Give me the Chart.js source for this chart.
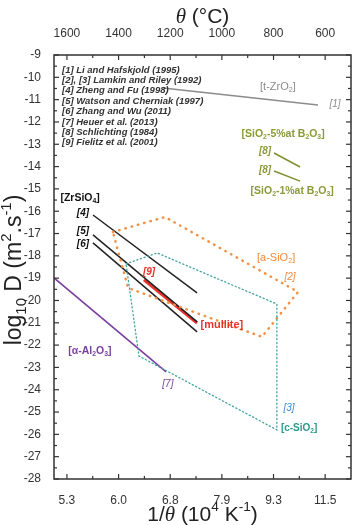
<!DOCTYPE html>
<html>
<head>
<meta charset="utf-8">
<script src="https://cdn.jsdelivr.net/npm/chart.js@4/dist/chart.umd.min.js"></script>
<style>
  body { margin: 0; background: #fff; }
  #wrap { width: 356px; height: 525px; position: relative; }
</style>
</head>
<body>
<div id="wrap"><canvas id="myChart"></canvas></div>
<script>
// temperature axis (deg C), drawn reversed; bottom axis shows 1/theta for the same ticks
const tempTicks = [1600, 1400, 1200, 1000, 800, 600];
const tempMinor = [1500, 1300, 1100, 900, 700];
const invTickLabels = ['5.3', '6.0', '6.8', '7.9', '9.3', '11.5'];
const logDTicks = [-9, -10, -11, -12, -13, -14, -15, -16, -17, -18, -19, -20, -21, -22, -23, -24, -25, -26, -27, -28];

// series: [theta (C), log10 D]
const liHafskjold = [[1228, -10.48], [628, -11.24]];          // [1] t-ZrO2
const schlichting5 = [[798, -13.39], [697, -14.02]];          // [8] SiO2-5%at B2O3
const schlichting1 = [[798, -14.20], [697, -14.65]];          // [8] SiO2-1%at B2O3
const zhengFu = [[1499, -16.17], [1096, -19.66]];             // [4]
const watsonCherniak = [[1499, -17.06], [1096, -20.96]];      // [5]
const zhangWu = [[1499, -17.42], [1096, -21.41]];             // [6]
const fielitz = [[1302, -19.08], [1096, -21.01]];             // [9] mullite
const heuer = [[1650, -18.99], [1216, -23.2]];                // [7] alpha-Al2O3
const lamkinAmorph = [[1422, -16.93], [1220, -16.26], [705, -19.62], [845, -21.63], [1363, -19.44], [1422, -16.93]]; // [2]
const lamkinCryst = [[1371, -18.36], [1251, -17.87], [787, -20.16], [787, -25.80], [1321, -22.49], [1371, -18.36]];  // [3]

const refs = [
  '[1] Li and Hafskjold (1995)',
  '[2], [3] Lamkin and Riley (1992)',
  '[4] Zheng and Fu (1998)',
  '[5] Watson and Cherniak (1997)',
  '[6] Zhang and Wu (2011)',
  '[7] Heuer et al. (2013)',
  '[8] Schlichting (1984)',
  '[9] Fielitz et al. (2001)'
];

// labels placed in data coords
const notes = [
  {t: '[t-ZrO_2]', x: 783, y: -10.43, c: '#8c8c8c', w: 'normal', s: 'normal', f: 11},
  {t: '[1]', x: 562, y: -11.2, c: '#8c8c8c', w: 'normal', s: 'italic', f: 10},
  {t: '[SiO_2-5%at B_2O_3]', x: 763, y: -12.54, c: '#8a9a3a', w: 'bold', s: 'normal', f: 10.5},
  {t: '[8]', x: 833, y: -13.30, c: '#8a9a3a', w: 'bold', s: 'italic', f: 10},
  {t: '[8]', x: 833, y: -14.15, c: '#8a9a3a', w: 'bold', s: 'italic', f: 10},
  {t: '[SiO_2-1%at B_2O_3]', x: 728, y: -15.1, c: '#8a9a3a', w: 'bold', s: 'normal', f: 10.5},
  {t: '[ZrSiO_4]', x: 1549, y: -15.41, c: '#111', w: 'bold', s: 'normal', f: 10.5},
  {t: '[4]', x: 1538, y: -16.08, c: '#111', w: 'bold', s: 'italic', f: 10},
  {t: '[5]', x: 1538, y: -16.89, c: '#111', w: 'bold', s: 'italic', f: 10},
  {t: '[6]', x: 1538, y: -17.47, c: '#111', w: 'bold', s: 'italic', f: 10},
  {t: '[9]', x: 1282, y: -18.72, c: '#e8322a', w: 'bold', s: 'italic', f: 10},
  {t: '[mullite]', x: 1000, y: -21.10, c: '#e8322a', w: 'bold', s: 'normal', f: 11},
  {t: '[a-SiO_2]', x: 790, y: -18.1, c: '#f08a3c', w: 'normal', s: 'normal', f: 11},
  {t: '[2]', x: 736, y: -18.95, c: '#f08a3c', w: 'normal', s: 'italic', f: 10},
  {t: '[α-Al_2O_3]', x: 1511, y: -22.26, c: '#7b3f9e', w: 'bold', s: 'normal', f: 10.5},
  {t: '[7]', x: 1209, y: -23.74, c: '#7b3f9e', w: 'normal', s: 'italic', f: 10},
  {t: '[3]', x: 740, y: -24.82, c: '#3b8bd0', w: 'normal', s: 'italic', f: 10},
  {t: '[c-SiO_2]', x: 701, y: -25.71, c: '#2a9a8a', w: 'bold', s: 'normal', f: 10}
];

const FAM = '"Liberation Sans", Arial, sans-serif';

function toPts(arr) { return arr.map(p => ({x: p[0], y: p[1]})); }

function parseRich(str) {
  const segs = [];
  const re = /([_^])\{([^}]*)\}|([_^])(.)|(θ)|([^_^θ]+)/g;
  let m;
  while ((m = re.exec(str))) {
    if (m[6]) segs.push({t: m[6], k: 0});
    else if (m[5]) segs.push({t: m[5], k: 0, theta: true});
    else {
      const key = m[1] || m[3];
      segs.push({t: m[2] !== undefined ? m[2] : m[4], k: key === '_' ? 1 : -1});
    }
  }
  return segs;
}

function drawRich(ctx, str, x, y, o) {
  const segs = parseRich(str);
  const fontFor = sg => {
    const sz = sg.k ? o.size * 0.65 : o.size;
    if (sg.theta) return 'italic ' + sz + 'px "Liberation Serif", serif';
    return (o.style || 'normal') + ' ' + (o.weight || 'normal') + ' ' + sz + 'px ' + FAM;
  };
  let total = 0;
  segs.forEach(sg => { ctx.font = fontFor(sg); sg.w = ctx.measureText(sg.t).width; total += sg.w; });
  let cx = o.align === 'left' ? x : x - total / 2;
  ctx.fillStyle = o.color;
  ctx.textBaseline = 'middle';
  ctx.textAlign = 'left';
  segs.forEach(sg => {
    ctx.font = fontFor(sg);
    const dy = sg.k === 1 ? o.size * 0.3 : sg.k === -1 ? -o.size * 0.35 : 0;
    ctx.fillText(sg.t, cx, y + dy);
    cx += sg.w;
  });
}

const decor = {
  id: 'decor',
  afterDatasetsDraw(chart) {
    const ctx = chart.ctx;
    const a = chart.chartArea;
    const xs = chart.scales.x, ys = chart.scales.y;
    ctx.save();
    ctx.strokeStyle = '#333';
    ctx.lineWidth = 1.5;
    ctx.strokeRect(a.left, a.top, a.right - a.left, a.bottom - a.top);
    ctx.lineWidth = 1.2;
    const tick = (x1, y1, x2, y2) => { ctx.beginPath(); ctx.moveTo(x1, y1); ctx.lineTo(x2, y2); ctx.stroke(); };
    tempTicks.forEach(v => {
      const px = xs.getPixelForValue(v);
      tick(px, a.bottom, px, a.bottom - 5);
      tick(px, a.top, px, a.top + 5);
    });
    tempMinor.forEach(v => {
      const px = xs.getPixelForValue(v);
      tick(px, a.bottom, px, a.bottom - 3);
      tick(px, a.top, px, a.top + 3);
    });
    logDTicks.forEach(v => {
      const py = ys.getPixelForValue(v);
      tick(a.left, py, a.left + 5, py);
      tick(a.right, py, a.right - 5, py);
      if (v > -28) {
        const pm = ys.getPixelForValue(v - 0.5);
        tick(a.left, pm, a.left + 3, pm);
        tick(a.right, pm, a.right - 3, pm);
      }
    });

    // reference list
    ctx.fillStyle = '#333';
    ctx.font = 'italic bold 9.5px ' + FAM;
    ctx.textAlign = 'left';
    ctx.textBaseline = 'middle';
    refs.forEach((r, i) => ctx.fillText(r, a.left + 8, a.top + 15 + i * 10.4));

    notes.forEach(n => {
      drawRich(ctx, n.t, xs.getPixelForValue(n.x), ys.getPixelForValue(n.y),
        {size: n.f, weight: n.w, style: n.s, color: n.c});
    });

    // axis titles
    const midX = (a.left + a.right) / 2;
    drawRich(ctx, 'θ (°C)', midX, 17, {size: 21, color: '#222'});
    drawRich(ctx, '1/θ (10^4 K^{-1})', midX, 515, {size: 21, color: '#222'});
    ctx.translate(15, 270);
    ctx.rotate(-Math.PI / 2);
    drawRich(ctx, 'log_{10} D (m^2.s^{-1})', 0, 0, {size: 23, color: '#222'});
    ctx.restore();
  }
};

function line(data, color, width, dash) {
  return {
    data: toPts(data),
    borderColor: color,
    borderWidth: width,
    borderDash: dash || [],
    borderCapStyle: dash ? 'round' : 'butt',
    pointRadius: 0,
    fill: false,
    tension: 0
  };
}

const tickFont = {family: FAM, size: 12};

new Chart(document.getElementById('myChart'), {
  type: 'line',
  data: {
    datasets: [
      line(lamkinCryst, '#45a3a0', 1.3, [1.2, 2.6]),
      line(lamkinAmorph, '#f39246', 2.5, [0.5, 6]),
      line(liHafskjold, '#8c8c8c', 1.5),
      line(schlichting5, '#7f9030', 1.5),
      line(schlichting1, '#7f9030', 1.5),
      line(zhengFu, '#222', 1.5),
      line(watsonCherniak, '#222', 1.5),
      line(zhangWu, '#222', 1.5),
      line(fielitz, '#e8322a', 3),
      line(heuer, '#7b3f9e', 1.6)
    ]
  },
  options: {
    responsive: true,
    maintainAspectRatio: false,
    animation: false,
    layout: {padding: 0},
    plugins: {legend: {display: false}, tooltip: {enabled: false}},
    scales: {
      x: {
        type: 'linear', position: 'bottom', min: 500, max: 1650, reverse: true,
        grid: {display: false}, border: {display: false},
        afterBuildTicks: s => { s.ticks = tempTicks.map(v => ({value: v})); },
        afterFit: s => { s.height = 46; },
        ticks: {
          padding: 6, color: '#333', font: tickFont, maxRotation: 0,
          callback: v => invTickLabels[tempTicks.indexOf(v)]
        }
      },
      x2: {
        type: 'linear', position: 'top', min: 500, max: 1650, reverse: true,
        grid: {display: false}, border: {display: false},
        afterBuildTicks: s => { s.ticks = tempTicks.map(v => ({value: v})); },
        afterFit: s => { s.height = 55; },
        ticks: {padding: 6, color: '#333', font: tickFont, maxRotation: 0, callback: v => String(v)}
      },
      y: {
        type: 'linear', position: 'left', min: -28, max: -9,
        grid: {display: false}, border: {display: false},
        afterBuildTicks: s => { s.ticks = logDTicks.map(v => ({value: v})); },
        afterFit: s => { s.width = 54; },
        ticks: {padding: 5, color: '#333', font: tickFont, callback: v => String(v)}
      },
      y2: {
        type: 'linear', position: 'right', min: -28, max: -9,
        grid: {display: false}, border: {display: false},
        ticks: {display: false},
        afterFit: s => { s.width = 5; }
      }
    }
  },
  plugins: [decor]
});
</script>
</body>
</html>
